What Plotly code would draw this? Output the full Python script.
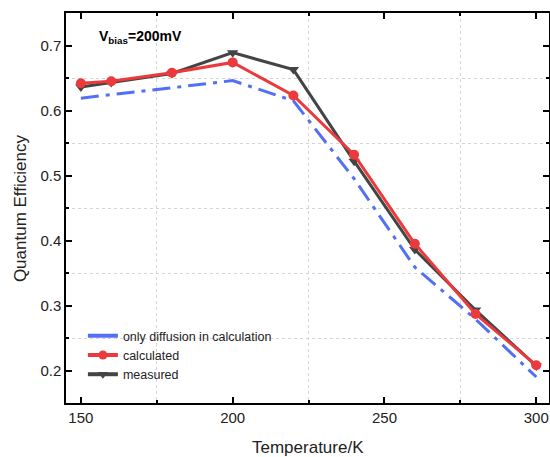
import plotly.graph_objects as go

# Data
temps = [150, 160, 180, 200, 220, 240, 260, 280, 300]
diffusion_only = [0.619, 0.624, 0.635, 0.646, 0.615, 0.495, 0.359, 0.279, 0.190]
calculated = [0.642, 0.645, 0.658, 0.674, 0.623, 0.532, 0.395, 0.287, 0.208]
measured = [0.636, 0.643, 0.657, 0.689, 0.663, 0.522, 0.386, 0.293, 0.207]

names = ["only diffusion in calculation", "calculated", "measured"]

BLUE = "rgb(82,112,245)"
RED = "rgb(236,58,60)"
GRAY = "rgb(68,68,68)"
FONT = "Liberation Sans, Arial, sans-serif"

fig = go.Figure()

# --- data traces ---
fig.add_trace(go.Scatter(
    x=temps, y=diffusion_only, mode="lines", showlegend=False,
    line=dict(color=BLUE, width=3, dash="18px,7px,4px,7px"),
))
fig.add_trace(go.Scatter(
    x=temps, y=measured, mode="lines+markers", showlegend=False,
    line=dict(color=GRAY, width=3),
    marker=dict(symbol="triangle-down", size=10, color=GRAY),
))
fig.add_trace(go.Scatter(
    x=temps, y=calculated, mode="lines+markers", showlegend=False,
    line=dict(color=RED, width=3),
    marker=dict(symbol="circle", size=10, color=RED),
))

# --- legend-only entries (solid blue like the original) ---
fig.add_trace(go.Scatter(x=[None], y=[None], mode="lines", name=names[0],
                         line=dict(color=BLUE, width=4)))
fig.add_trace(go.Scatter(x=[None], y=[None], mode="lines+markers", name=names[1],
                         line=dict(color=RED, width=4),
                         marker=dict(symbol="circle", size=9, color=RED)))
fig.add_trace(go.Scatter(x=[None], y=[None], mode="lines+markers", name=names[2],
                         line=dict(color=GRAY, width=4),
                         marker=dict(symbol="triangle-down", size=9, color=GRAY)))

axis_common = dict(
    showline=True, linecolor="black", linewidth=1.5, mirror="allticks",
    ticks="inside", ticklen=6, tickwidth=1.5, tickcolor="black",
    showgrid=False, zeroline=False, automargin=False,
    tickfont=dict(size=15, color="#222", family=FONT),
)

fig.update_xaxes(
    **axis_common,
    range=[145.1, 304.2], tick0=150, dtick=50,
    minor=dict(dtick=25, tick0=150, ticks="inside", ticklen=3, tickcolor="black",
               showgrid=True, gridcolor="#d4d4d4", griddash="dot", gridwidth=1),
)
fig.update_yaxes(
    **axis_common,
    range=[0.15, 0.75], tick0=0.2, dtick=0.1, tickformat=".1f",
    minor=dict(dtick=0.05, tick0=0.2, ticks="inside", ticklen=3, tickcolor="black",
               showgrid=True, gridcolor="#d4d4d4", griddash="dot", gridwidth=1),
)

# axis titles placed as paper annotations
fig.add_annotation(
    x=0.5, y=-0.113, xref="paper", yref="paper", xanchor="center", yanchor="middle",
    text="Temperature/K", showarrow=False,
    font=dict(size=17, color="#222", family=FONT),
)
fig.add_annotation(
    x=-0.095, y=0.5, xref="paper", yref="paper", xanchor="center", yanchor="middle",
    text="Quantum Efficiency", showarrow=False, textangle=-90,
    font=dict(size=17, color="#222", family=FONT),
)

fig.add_annotation(
    x=0.064, y=0.938, xref="paper", yref="paper", xanchor="left", yanchor="middle",
    text="<b>V<sub>bias</sub>=200mV</b>", showarrow=False,
    font=dict(size=14, color="black", family=FONT),
)

fig.update_layout(
    width=550, height=457,
    margin=dict(l=66, r=1, t=13, b=54),
    plot_bgcolor="white", paper_bgcolor="white",
    font=dict(family=FONT, color="#222"),
    legend=dict(
        x=0.035, y=0.21, xanchor="left", yanchor="top",
        bgcolor="rgba(0,0,0,0)", font=dict(size=12.5, color="#222", family=FONT),
        itemwidth=30, tracegroupgap=0,
    ),
)

# page body has a default 8px margin; drop it so the figure fills the window
fig.write_html(
    "out.html",
    config={"displayModeBar": False},
    post_script="document.body.style.margin='0px';",
)
